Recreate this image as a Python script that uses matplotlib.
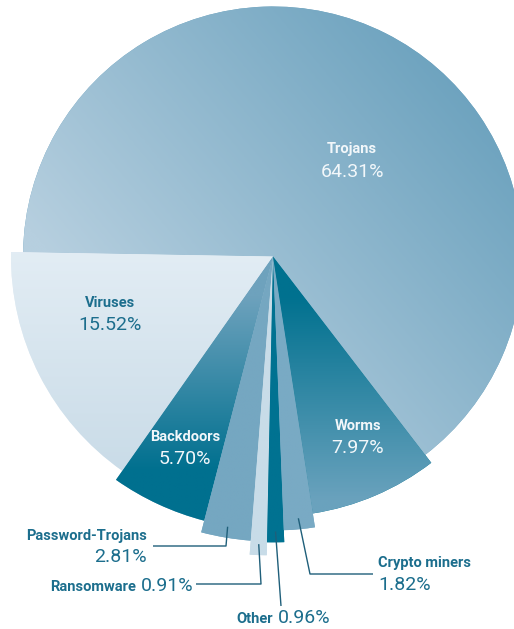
import numpy as np
import matplotlib
matplotlib.use("Agg")
import matplotlib.pyplot as plt
from matplotlib.colors import LinearSegmentedColormap

# malware class shares (percent), counter-clockwise from the top-right
categories = ["Trojans", "Viruses", "Backdoors", "Password-Trojans",
              "Ransomware", "Other", "Crypto miners", "Worms"]
shares = [64.31, 15.52, 5.70, 2.81, 0.91, 0.96, 1.82, 7.97]

W, H = 514, 629
CENTER = (273, H - 256.5)
# outer radius of each wedge, in pixels
RADII = [250, 262, 273, 285, 299, 286, 274, 260]

FONT = ["Roboto", "Liberation Sans", "DejaVu Sans"]
TEAL = "#1c6e8d"
WHITE = "#f2f7fa"
LEADER = "#1f5f7a"

# per-wedge fill: (color at lo, color at hi, direction in deg, lo, hi)
FILLS = [
    ("#b6cfdf", "#6ca2be", 40, -170, 265),
    ("#cadce8", "#e4eef5", 90, -210, 20),
    ("#00708f", "#6ea2bd", 90, -215, -40),
    ("#75a7c1", "#75a7c1", 90, -1, 1),
    ("#c8dce8", "#c8dce8", 90, -1, 1),
    ("#007291", "#007291", 90, -1, 1),
    ("#79aac4", "#79aac4", 90, -1, 1),
    ("#6aa2bd", "#00718f", 90, -245, -40),
]

# label layout in pixel coords (y measured from the top)
INSIDE = {  # name (x, y), value (x, y), color
    "Trojans": ((352, 149), (352, 172), WHITE),
    "Viruses": ((110, 303), (110, 325), TEAL),
    "Backdoors": ((185, 437), (185, 459), WHITE),
    "Worms": ((358, 426), (358, 448), WHITE),
}

NAME_SIZE = 10.5
VALUE_SIZE = 14


def fill_gradient(ax, wedge, c0, c1, angle, lo, hi):
    x0, y0 = wedge.center
    r = wedge.r
    xs = np.linspace(x0 - r, x0 + r, 400)
    ys = np.linspace(y0 - r, y0 + r, 400)
    X, Y = np.meshgrid(xs, ys)
    a = np.deg2rad(angle)
    p = (X - x0) * np.cos(a) + (Y - y0) * np.sin(a)
    t = np.clip((p - lo) / (hi - lo), 0, 1)
    cmap = LinearSegmentedColormap.from_list("fill", [c0, c1])
    im = ax.imshow(t, cmap=cmap, vmin=0, vmax=1, origin="lower",
                   extent=(x0 - r, x0 + r, y0 - r, y0 + r),
                   interpolation="bilinear", zorder=2)
    im.set_clip_path(wedge)


def anchor(wedge, inset=11):
    mid = np.deg2rad((wedge.theta1 + wedge.theta2) / 2)
    r = wedge.r - inset
    return wedge.center[0] + r * np.cos(mid), wedge.center[1] + r * np.sin(mid)


fig = plt.figure(figsize=(W / 100, H / 100), dpi=100)
ax = fig.add_axes([0, 0, 1, 1])

wedges, _ = ax.pie(shares, center=CENTER, radius=RADII[0], startangle=-52.5,
                   counterclock=True, wedgeprops=dict(linewidth=0))
for w, r, (c0, c1, ang, lo, hi) in zip(wedges, RADII, FILLS):
    w.set_radius(r)
    w.set_facecolor(c1)
    fill_gradient(ax, w, c0, c1, ang, lo, hi)

pct = {c: f"{v:.2f}%" for c, v in zip(categories, shares)}
idx = {c: i for i, c in enumerate(categories)}

for name, ((nx, ny), (vx, vy), col) in INSIDE.items():
    ax.text(nx, H - ny, name, ha="center", va="center", color=col,
            fontsize=NAME_SIZE, fontweight="bold", family=FONT, zorder=5)
    ax.text(vx, H - vy, pct[name], ha="center", va="center", color=col,
            fontsize=VALUE_SIZE, family=FONT, zorder=5)

# leader lines for the thin wedges: elbow then end point (pixel coords)
leaders = {
    "Password-Trojans": [(226, 546), (153, 546)],
    "Ransomware": [(261, 584), (196, 584)],
    "Other": [(281, 606)],
    "Crypto miners": [(310, 574), (373, 574)],
}
for name, pts in leaders.items():
    a0 = anchor(wedges[idx[name]])
    xs = [a0[0]] + [p[0] for p in pts]
    ys = [a0[1]] + [H - p[1] for p in pts]
    ax.plot(xs, ys, color=LEADER, lw=1.0, zorder=4, solid_capstyle="butt")

name_kw = dict(color=TEAL, fontsize=NAME_SIZE, fontweight="bold", family=FONT,
               va="center", zorder=5)
val_kw = dict(color=TEAL, fontsize=VALUE_SIZE, family=FONT, va="center",
              zorder=5)

ax.text(147, H - 536, "Password-Trojans", ha="right", **name_kw)
ax.text(147, H - 557, pct["Password-Trojans"], ha="right", **val_kw)
ax.text(136, H - 587, "Ransomware", ha="right", **name_kw)
ax.text(141, H - 586, pct["Ransomware"], ha="left", **val_kw)
ax.text(273, H - 619, "Other", ha="right", **name_kw)
ax.text(278, H - 618, pct["Other"], ha="left", **val_kw)
ax.text(378, H - 563, "Crypto miners", ha="left", **name_kw)
ax.text(378, H - 585, pct["Crypto miners"], ha="left", **val_kw)

ax.set_xlim(0, W)
ax.set_ylim(0, H)
ax.set_aspect("equal")
ax.axis("off")

fig.savefig("out.png", dpi=100)
